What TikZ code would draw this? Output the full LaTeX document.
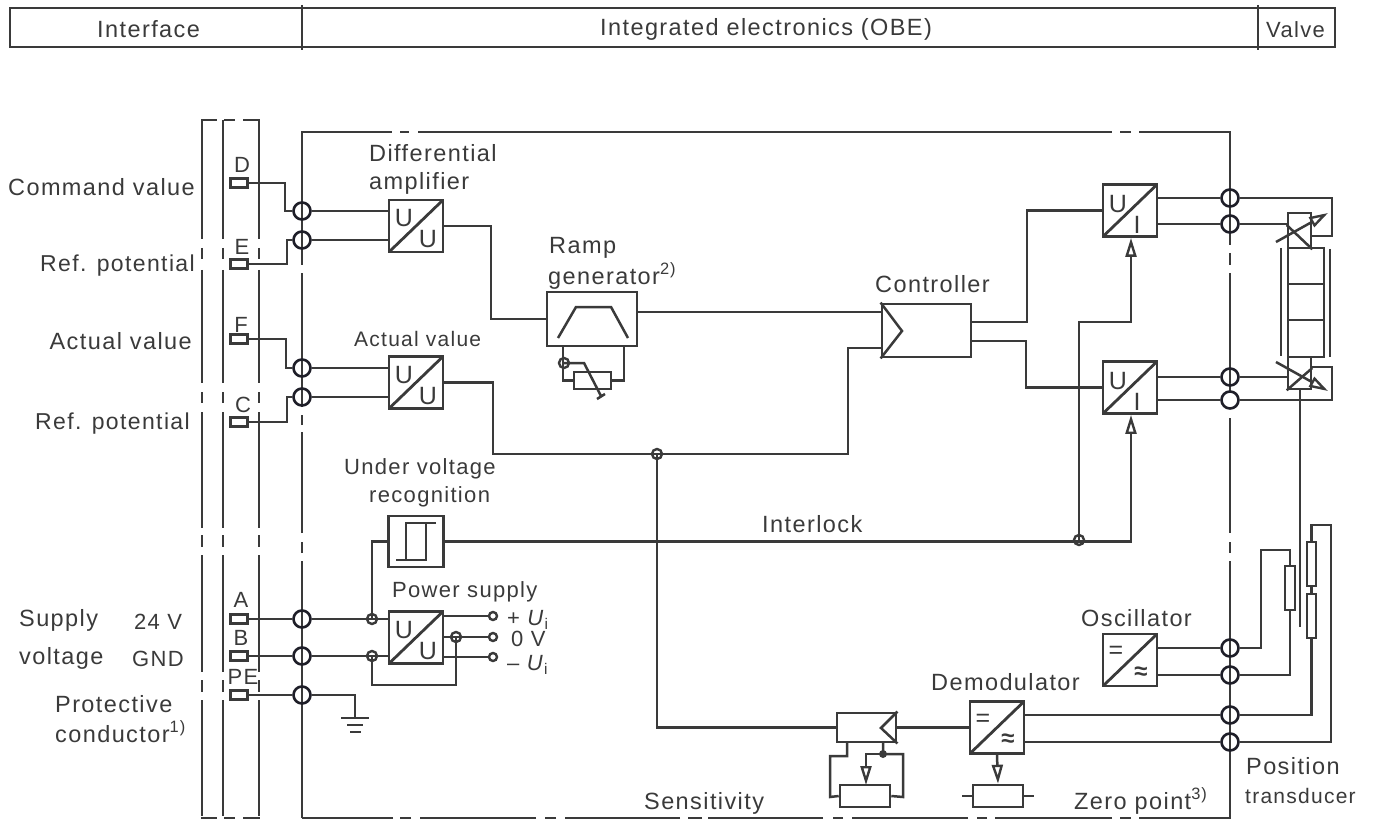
\documentclass[tikz,border=0pt]{standalone}
\usepackage{fontspec}
\setmainfont[LetterSpace=6]{Liberation Sans}
\usepackage{tikz}
\usetikzlibrary{positioning,arrows.meta,calc}
\definecolor{ink}{HTML}{3A3A3A}
\definecolor{portink}{HTML}{1E1E28}
\begin{document}
\begin{tikzpicture}[
  x=1pt,y=-1pt,
  font=\fontsize{23.5}{26}\selectfont,
  every node/.append style={text=ink},
  wire/.style={draw=ink,line width=2.5pt},
  frm/.style={draw=ink,line width=2.6pt},
  box/.style={draw=ink,line width=2.8pt,fill=none,inner sep=0pt,minimum width=54pt,minimum height=52pt},
  conv/.style={box,path picture={\draw[ink,line width=2.8pt] (path picture bounding box.south west) -- (path picture bounding box.north east);}},
  res/.style={draw=ink,line width=2.6pt,inner sep=0pt},
  port/.style={circle,draw=portink,line width=2.6pt,inner sep=0pt,minimum size=17pt},
  junc/.style={circle,draw=ink,line width=2.4pt,inner sep=0pt,minimum size=10pt},
  term/.style={circle,draw=ink,line width=2.4pt,inner sep=0pt,minimum size=8pt},
  pin/.style={draw=ink,line width=2.4pt,inner sep=0pt,minimum width=17pt,minimum height=9pt},
  lab/.style={inner sep=0pt,anchor=base west},
  slab/.style={lab,font=\fontsize{22}{26}\selectfont},
  plab/.style={font=\fontsize{22}{26}\selectfont},
  sym/.style={inner sep=0pt,font=\fontsize{25}{26}\selectfont},
  apx/.style={inner sep=0pt,font=\fontsize{24}{26}\bfseries\selectfont},
  arr/.style={wire,-{Triangle[open,length=19pt,width=11pt,line width=2.4pt]}}]
\useasboundingbox (0,0) rectangle (1374,821);
% header
\node[draw=ink,line width=2.6pt,minimum width=1325pt,minimum height=39pt,inner sep=0pt] (head) at (672.5,27.5) {};
\draw[frm] (302,5) -- (302,50) (1258,5) -- (1258,50);
\node[lab] (hif) at (97,38) {Interface};
\node[lab] (hobe) at (600,36) {Integrated electronics (OBE)};
\node[slab] (hvl) at (1266,38) {Valve};
% connector strip
\foreach \x in {202,223,259} {
  \draw[frm] (\x,120) -- (\x,239) (\x,248) -- (\x,259) (\x,270) -- (\x,383) (\x,392) -- (\x,403) (\x,412) -- (\x,528)
    (\x,535) -- (\x,547) (\x,555) -- (\x,672) (\x,680) -- (\x,692) (\x,700) -- (\x,816);
}
\draw[frm] (201,120) -- (217,120) (224,120) -- (235,120) (243,120) -- (260,120);
\draw[frm] (201,818) -- (217,818) (224,818) -- (235,818) (243,818) -- (260,818);
% electronics frame
\draw[frm] (302,258) -- (302,132) -- (392,132) (400,132) -- (409,132) (418,132) -- (1112,132) (1120,132) -- (1131,132) (1139,132) -- (1230,132) -- (1230,245);
\draw[frm] (1230,253) -- (1230,265) (1230,273) -- (1230,393) (1230,418) -- (1230,533) (1230,542) -- (1230,553) (1230,561) -- (1230,818) -- (1139,818) (1131,818) -- (1120,818) (1112,818) -- (995,818) (987,818) -- (977,818) (968,818) -- (852,818) (843,818) -- (833,818) (823,818) -- (708,818) (702,818) -- (688,818) (680,818) -- (565,818) (556,818) -- (545,818) (536,818) -- (420,818) (411,818) -- (400,818) (393,818) -- (302,818);
\draw[frm] (302,818) -- (302,561) (302,553) -- (302,542) (302,533) -- (302,432) (302,425) -- (302,415) (302,407) -- (302,273) (302,265) -- (302,258);
% terminals
\node[pin] (pinD) at (239,183) {};
\node[pin] (pinE) at (239,264) {};
\node[pin] (pinF) at (239,339) {};
\node[pin] (pinC) at (239,422) {};
\node[pin] (pinA) at (239,619) {};
\node[pin] (pinB) at (239,656) {};
\node[pin] (pinPE) at (239,695) {};
\node[plab] (tD) at (242,165) {D};
\node[plab] (tE) at (242,247) {E};
\node[plab] (tF) at (241,325) {F};
\node[plab] (tC) at (243,405) {C};
\node[plab] (tA) at (241,600) {A};
\node[plab] (tB) at (241,638) {B};
\node[plab] (tPE) at (243,677) {PE};
% ports left
\node[port] (pd) at (302,211) {};
\node[port] (pe) at (302,240) {};
\node[port] (pf) at (302,368) {};
\node[port] (pc) at (302,397) {};
\node[port] (pa) at (302,619) {};
\node[port] (pb) at (302,656) {};
\node[port] (ppe) at (302,695) {};
% ports right
\node[port] (q1) at (1230,198) {};
\node[port] (q2) at (1230,224) {};
\node[port] (q3) at (1230,377) {};
\node[port] (q4) at (1230,400) {};
\node[port] (q5) at (1230,648) {};
\node[port] (q6) at (1230,675) {};
\node[port] (q7) at (1230,715) {};
\node[port] (q8) at (1230,742) {};
% blocks
\node[conv] (uu1) at (416,226) {};
\node[conv] (uu2) at (416,382.5) {};
\node[box,minimum width=90pt,minimum height=54pt] (ramp) at (592,319) {};
\node[box,minimum width=89pt,minimum height=53pt] (ctrl) at (926.5,330.5) {};
\node[conv] (ui1) at (1130,210.5) {};
\node[conv] (ui2) at (1130,387.5) {};
\node[box,minimum width=55pt,minimum height=51pt] (uvr) at (416,541.5) {};
\node[conv] (psu) at (416,637.5) {};
\node[conv] (osc) at (1130,660) {};
\node[conv] (dem) at (997,727.5) {};
\node[box,minimum width=59pt,minimum height=29pt] (sens) at (866.5,727.5) {};
% block symbols
\node[sym] (u1a) at (404,218) {U};
\node[sym] (u1b) at (428,239) {U};
\node[sym] (u2a) at (404,375) {U};
\node[sym] (u2b) at (428,396) {U};
\node[sym] (u3a) at (404,630) {U};
\node[sym] (u3b) at (428,651) {U};
\node[sym] (u4a) at (1118,204) {U};
\node[sym] (u4b) at (1137,225) {I};
\node[sym] (u5a) at (1118,381) {U};
\node[sym] (u5b) at (1137,402) {I};
\node[sym] (e1) at (1116,652) {=};
\node[apx] (s1) at (1141,673) {≈};
\node[sym] (e2) at (983,720) {=};
\node[apx] (s2) at (1008,740) {≈};
\draw[wire] (558,338) -- (576,307) -- (611,307) -- (628,338);
\draw[wire] (ctrl.north west) -- (902,331) -- (ctrl.south west);
\draw[wire] (sens.north east) -- (881,728) -- (sens.south east);
\draw[wire] (396,560) -- (426,560) -- (426,523) (436,523) -- (406,523) -- (406,560);
% left wiring
\draw[wire] (pinD.east) -- (285,183) |- (pd);
\draw[wire] (pinE.east) -- (287,264) |- (pe);
\draw[wire] (pinF.east) -- (286,339) |- (pf);
\draw[wire] (pinC.east) -- (287,422) |- (pc);
\draw[wire] (pinA) -- (pa);
\draw[wire] (pinB) -- (pb);
\draw[wire] (pinPE) -- (ppe);
\draw[wire] (pd) -- (pd -| uu1.west);
\draw[wire] (pe) -- (pe -| uu1.west);
\draw[wire] (pf) -- (pf -| uu2.west);
\draw[wire] (pc) -- (pc -| uu2.west);
% signal path
\coordinate (jact) at (657,454);
\coordinate (jlock) at (1079,540);
\node[junc] (jact1) at (jact) {};
\node[junc] (jlock1) at (jlock) {};
\draw[wire] (uu1.east) -- (491,226) |- (ramp.west);
\draw[wire] (ramp.east |- 0,312) -- (ctrl.west |- 0,312);
\draw[wire] (uu2.east) -- (493,382.5) |- (jact) -| (848,348) -- (ctrl.west |- 0,348);
\draw[wire] (jact) |- (sens.west);
\draw[wire] (ctrl.east |- 0,322) -- (1027,322) |- (ui1.west);
\draw[wire] (ctrl.east |- 0,341) -- (1026,341) |- (ui2.west);
\draw[wire] (ui1.east |- q1) -- (q1);
\draw[wire] (ui1.east |- q2) -- (q2);
\draw[wire] (ui2.east |- q3) -- (q3);
\draw[wire] (ui2.east |- q4) -- (q4);
\draw[arr] (uvr.east) -- (1131,541.5) -- (ui2.south -| 1131,0);
\draw[arr] (jlock) -- (1079,322) -- (1131,322) -- (ui1.south -| 1131,0);
% ramp time setting
\node[junc] (jramp) at (564,363) {};
\node[res,minimum width=37pt,minimum height=17pt] (rramp) at (592.5,380.5) {};
\draw[wire] (ramp.south -| 563,0) |- (rramp.west);
\draw[wire] (ramp.south -| 624,0) |- (rramp.east);
\draw[wire] (jramp.center) -- (584,363) -- (601,396);
\draw[wire] (597,399) -- (605,394);
% power supply
\node[junc] (ja) at (372,619) {};
\node[junc] (jb) at (372,656) {};
\node[junc] (jz) at (456,637) {};
\node[term] (tp) at (493,616) {};
\node[term] (tz) at (493,637) {};
\node[term] (tm) at (493,657) {};
\draw[wire] (pa) -- (pa -| psu.west);
\draw[wire] (pb) -- (pb -| psu.west);
\draw[wire] (uvr.west) -- (372,541.5) -- (ja.center);
\draw[wire] (jb.center) -- (372,685) -- (456,685) -- (jz.center);
\draw[wire] (psu.east |- tp) -- (tp);
\draw[wire] (psu.east |- tz) -- (tz);
\draw[wire] (psu.east |- tm) -- (tm);
% earth
\coordinate (gnd) at (355,718);
\draw[wire] (ppe) -| (gnd);
\draw[wire] (341,718) -- (369,718) (347,725) -- (363,725) (350,732) -- (361,732);
% sensitivity and zero point
\node[res,minimum width=50pt,minimum height=22pt] (rsens) at (865,796) {};
\node[res,minimum width=50pt,minimum height=22pt] (rzero) at (998,796) {};
\node[circle,fill=ink,inner sep=0pt,minimum size=8pt] (jsens) at (883,754) {};
\draw[wire] (sens.east) -- (dem.west |- sens.east);
\draw[wire] (847,742) -- (847,756) -- (830,756) -- (830,797) -- (rsens.west);
\draw[wire] (883,742) -- (jsens.center) -- (903,754) -- (903,797) -- (rsens.east);
\draw[arr] (jsens.center) -- (866,754) -- (866,785);
\draw[arr] (dem.south) -- (rzero.north);
\draw[wire] (962,796) -- (rzero.west) (rzero.east) -- (1034,796);
\draw[wire] (dem.east |- q7) -- (q7);
\draw[wire] (dem.east |- q8) -- (q8);
\draw[wire] (osc.east |- q5) -- (q5);
\draw[wire] (osc.east |- q6) -- (q6);
% valve
\node[res,minimum width=23pt,minimum height=35pt] (sol1) at (1299.5,230.5) {};
\node[res,minimum width=23pt,minimum height=32pt] (sol2) at (1299.5,373) {};
\node[res,minimum width=36pt,minimum height=36pt] (pos1) at (1306,266) {};
\node[res,minimum width=36pt,minimum height=36pt] (pos2) at (1306,302) {};
\node[res,minimum width=36pt,minimum height=37pt] (pos3) at (1306,338.5) {};
\draw[wire] (1281,248) -- (1281,356) (1330,249) -- (1330,357);
\draw[wire] (q1) -- (1332,198) -- (1332,236) -- (sol1.east |- 0,236);
\draw[wire] (q2) -- (sol1.west |- q2);
\draw[wire] (q3) -- (sol2.west |- q3);
\draw[wire] (q4) -- (1332,400) -- (1332,367) -- (sol2.east |- 0,367);
\draw[wire] (sol1.west |- 0,225) -- (sol1.south east);
\draw[wire] (sol2.south west) -- (sol2.east |- 0,368);
\draw[arr] (1276,242) -- (1328,213);
\draw[arr] (1276,362) -- (1328,391);
% position transducer
\node[res,minimum width=10pt,minimum height=44pt] (rp1) at (1290,588) {};
\node[res,minimum width=9pt,minimum height=44pt] (rp2) at (1311.5,564) {};
\node[res,minimum width=9pt,minimum height=44pt] (rp3) at (1311.5,616) {};
\draw[wire] (sol2.south -| 1300,0) -- (1300,627);
\draw[wire] (q5) -| (1261,550) -| (rp1.north);
\draw[wire] (rp1.south) |- (q6);
\draw[wire] (rp2.south) -- (rp3.north);
\draw[wire] (rp2.north) |- (1331,525) |- (q8);
\draw[wire] (rp3.south) |- (q7);
% labels left
\node[lab,anchor=base east] (lcmd) at (195,196) {Command value};
\node[lab,anchor=base east,font=\fontsize{23}{26}\selectfont] (lref1) at (195,272) {Ref. potential};
\node[lab,anchor=base east] (lact) at (192,349) {Actual value};
\node[lab,anchor=base east,font=\fontsize{23}{26}\selectfont] (lref2) at (190,429) {Ref. potential};
\node[lab] (lsup) at (19,626) {Supply};
\node[slab] (l24) at (134,629) {24 V};
\node[lab] (lvol) at (19,664) {voltage};
\node[slab] (lgnd) at (132,666) {GND};
\node[lab] (lpro) at (55,712) {Protective};
\node[lab] (lcon) at (55,742) {conductor\textsuperscript{1)}};
% labels blocks
\node[lab] (ldif) at (369,162) {Differential};
\node[lab] (lamp) at (369,190) {amplifier};
\node[slab,font=\fontsize{21}{26}\selectfont] (lavl) at (354,346) {Actual value};
\node[lab] (lrmp) at (549,254) {Ramp};
\node[lab] (lgen) at (548,284) {generator\textsuperscript{2)}};
\node[lab] (lctl) at (875,292) {Controller};
\node[slab] (luvr) at (344,474) {Under voltage};
\node[slab] (lrec) at (369,502) {recognition};
\node[slab] (lpsu) at (392,597) {Power supply};
\node[lab] (llck) at (762,532) {Interlock};
\node[lab] (losc) at (1081,626) {Oscillator};
\node[lab] (ldem) at (931,690) {Demodulator};
\node[lab] (lsen) at (644,809) {Sensitivity};
\node[lab] (lzer) at (1074,809) {Zero point\textsuperscript{3)}};
\node[lab] (lpos) at (1246,774) {Position};
\node[slab,font=\fontsize{21}{24}\selectfont] (ltra) at (1245,803) {transducer};
\node[slab] (lpl) at (507,625) {+\,\,\textit{U}\textsubscript{i}};
\node[slab] (lzv) at (511,646) {0 V};
\node[slab] (lmi) at (507,670) {--\,\,\textit{U}\textsubscript{i}};
\end{tikzpicture}
\end{document}
